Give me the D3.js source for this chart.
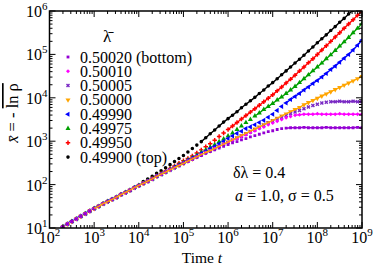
<!DOCTYPE html>
<html>
<head>
<meta charset="utf-8">
<script src="https://cdn.jsdelivr.net/npm/d3@7"></script>
<style>
  body { margin: 0; background: #fff; }
  text { font-family: "Liberation Serif", "Times New Roman", serif; fill: #000; }
</style>
</head>
<body>
<svg></svg>
<script>
const width = 374;
const height = 267;
const margin = { left: 49.5, right: 12, top: 11, bottom: 39 };

// log10 of the time t
const logTime = [2.3, 2.4, 2.5, 2.6, 2.7, 2.8, 2.9, 3.0, 3.1, 3.2, 3.3, 3.4, 3.5, 3.6, 3.7, 3.8, 3.9, 4.0,
  4.1, 4.2, 4.3, 4.4, 4.5, 4.6, 4.7, 4.8, 4.9, 5.0, 5.1, 5.2, 5.3, 5.4, 5.5, 5.6, 5.7, 5.8, 5.9, 6.0,
  6.1, 6.2, 6.3, 6.4, 6.5, 6.6, 6.7, 6.8, 6.9, 7.0, 7.1, 7.2, 7.3, 7.4, 7.5, 7.6, 7.7, 7.8, 7.9, 8.0,
  8.1, 8.2, 8.3, 8.4, 8.5, 8.6, 8.7, 8.8, 8.9, 9.0];

// log10 of x̄, all runs coincide up to t = 10^4
const early = [1.03, 1.09, 1.15, 1.21, 1.27, 1.33, 1.39, 1.45, 1.50, 1.56, 1.61, 1.66, 1.71, 1.77, 1.82, 1.87, 1.93, 1.98];

// values from t = 10^4.1 on
const x50020 = early.concat([2.03, 2.08, 2.13, 2.19, 2.24, 2.29, 2.34, 2.39, 2.44, 2.49, 2.54, 2.59,
  2.63, 2.67, 2.72, 2.76, 2.80, 2.84, 2.88, 2.92, 2.96, 2.99, 3.03, 3.06, 3.10, 3.13, 3.16, 3.19, 3.22,
  3.24, 3.27, 3.29, 3.30, 3.31, 3.31, 3.31, 3.32, 3.31, 3.31, 3.31, 3.31, 3.32, 3.31, 3.31, 3.31, 3.31,
  3.31, 3.31, 3.32, 3.31]);
const x50010 = early.concat([2.03, 2.08, 2.13, 2.19, 2.24, 2.29, 2.34, 2.39, 2.44, 2.49, 2.54, 2.59,
  2.64, 2.69, 2.74, 2.78, 2.83, 2.88, 2.93, 2.97, 3.02, 3.06, 3.11, 3.15, 3.20, 3.24, 3.29, 3.33, 3.38,
  3.42, 3.46, 3.50, 3.54, 3.57, 3.60, 3.61, 3.62, 3.62, 3.62, 3.63, 3.62, 3.62, 3.62, 3.62, 3.63, 3.62,
  3.62, 3.62, 3.62, 3.62]);
const x50005 = early.concat([2.03, 2.08, 2.13, 2.19, 2.24, 2.29, 2.34, 2.39, 2.44, 2.49, 2.54, 2.59,
  2.64, 2.69, 2.74, 2.78, 2.83, 2.88, 2.93, 2.97, 3.02, 3.07, 3.11, 3.16, 3.21, 3.26, 3.31, 3.37, 3.42,
  3.46, 3.51, 3.55, 3.59, 3.63, 3.67, 3.71, 3.75, 3.79, 3.82, 3.85, 3.88, 3.90, 3.91, 3.91, 3.92, 3.91,
  3.91, 3.92, 3.91, 3.91]);
const x50000 = early.concat([2.03, 2.08, 2.13, 2.19, 2.24, 2.29, 2.34, 2.39, 2.44, 2.49, 2.54, 2.59,
  2.64, 2.69, 2.74, 2.78, 2.83, 2.88, 2.93, 2.98, 3.03, 3.08, 3.13, 3.18, 3.23, 3.28, 3.33, 3.38, 3.43,
  3.48, 3.53, 3.58, 3.63, 3.68, 3.73, 3.78, 3.84, 3.89, 3.94, 3.99, 4.04, 4.09, 4.14, 4.19, 4.24, 4.29,
  4.34, 4.39, 4.44, 4.49]);
const x49990 = early.concat([2.03, 2.08, 2.13, 2.19, 2.24, 2.29, 2.34, 2.40, 2.45, 2.50, 2.56, 2.61,
  2.66, 2.72, 2.77, 2.83, 2.88, 2.94, 3.00, 3.06, 3.12, 3.18, 3.23, 3.29, 3.33, 3.38, 3.43, 3.48, 3.55,
  3.62, 3.71, 3.80, 3.88, 3.96, 4.03, 4.10, 4.18, 4.25, 4.33, 4.40, 4.48, 4.56, 4.65, 4.73, 4.82, 4.91,
  5.00, 5.10, 5.21, 5.33]);
const x49975 = early.concat([2.03, 2.08, 2.13, 2.19, 2.24, 2.29, 2.35, 2.40, 2.46, 2.51, 2.57, 2.62,
  2.68, 2.74, 2.80, 2.86, 2.92, 2.99, 3.05, 3.12, 3.19, 3.27, 3.35, 3.43, 3.50, 3.58, 3.65, 3.73, 3.80,
  3.87, 3.95, 4.02, 4.10, 4.18, 4.26, 4.35, 4.44, 4.53, 4.62, 4.71, 4.80, 4.90, 4.99, 5.09, 5.19, 5.29,
  5.39, 5.50, 5.60, 5.71]);
const x49950 = early.concat([2.03, 2.08, 2.14, 2.20, 2.25, 2.31, 2.37, 2.43, 2.49, 2.55, 2.60, 2.66,
  2.73, 2.80, 2.87, 2.94, 3.02, 3.11, 3.19, 3.27, 3.35, 3.43, 3.51, 3.59, 3.67, 3.75, 3.83, 3.91, 3.99,
  4.07, 4.16, 4.25, 4.34, 4.43, 4.52, 4.62, 4.71, 4.81, 4.90, 5.00, 5.10, 5.20, 5.30, 5.40, 5.50, 5.60,
  5.70, 5.80, 5.90, 6.00]);
const x49900 = early.concat([2.07, 2.13, 2.19, 2.26, 2.32, 2.39, 2.46, 2.53, 2.60, 2.67, 2.75, 2.83,
  2.91, 2.99, 3.08, 3.17, 3.26, 3.35, 3.44, 3.52, 3.60, 3.68, 3.77, 3.85, 3.93, 4.01, 4.10, 4.18, 4.27,
  4.35, 4.44, 4.53, 4.62, 4.71, 4.80, 4.89, 4.98, 5.08, 5.17, 5.27, 5.36, 5.45, 5.55, 5.64, 5.74, 5.83,
  5.93, 6.02]);

const labels = ["0.50020 (bottom)", "0.50010", "0.50005", "0.50000", "0.49990", "0.49975", "0.49950", "0.49900 (top)"];
const runs = [x50020, x50010, x50005, x50000, x49990, x49975, x49950, x49900];
// log10 t where the solid curve starts
const lineFrom = [7.3, 7.5, 8.3, 3.0, 7.3, 6.6, 6.0, 5.4];

const xTicks = [2, 3, 4, 5, 6, 7, 8, 9];
const yTicks = [1, 2, 3, 4, 5, 6];

// styles
const colors = ["#9400d3", "#ff00ff", "#7a2ac4", "#ffa500", "#0000ff", "#00a000", "#ff0000", "#000000"];
const shapes = [
  { type: d3.symbolSquare, size: 8, rot: 0 },
  { type: d3.symbolSquare, size: 8, rot: 45 },
  { type: d3.symbolCross, size: 10, rot: 45 },
  { type: d3.symbolTriangle, size: 11, rot: 180 },
  { type: d3.symbolTriangle, size: 11, rot: -90 },
  { type: d3.symbolTriangle, size: 11, rot: 0 },
  { type: d3.symbolCross, size: 11, rot: 0 },
  { type: d3.symbolCircle, size: 10, rot: 0 }
];

const svg = d3.select("svg")
  .attr("width", width)
  .attr("height", height);

const x = d3.scaleLog().domain([1e2, 1e9]).range([margin.left, width - margin.right]);
const y = d3.scaleLog().domain([1e1, 1e6]).range([height - margin.bottom, margin.top]);

svg.append("clipPath").attr("id", "plot")
  .append("rect")
  .attr("x", x.range()[0]).attr("y", y.range()[1])
  .attr("width", x.range()[1] - x.range()[0])
  .attr("height", y.range()[0] - y.range()[1]);

const pts = v => logTime.map((lt, i) => [lt, v[i]]).filter(d => d[1] !== undefined);

const plot = svg.append("g").attr("clip-path", "url(#plot)");

// markers, top curve first so the lowest run sits on top
d3.range(runs.length).reverse().forEach(k => {
  const sym = d3.symbol().type(shapes[k].type).size(shapes[k].size);
  plot.append("g").selectAll("path")
    .data(pts(runs[k]))
    .join("path")
    .attr("d", sym)
    .attr("fill", colors[k])
    .attr("transform", d => `translate(${x(10 ** d[0])},${y(10 ** d[1])}) rotate(${shapes[k].rot})`);
});

// solid curves
const line = d3.line().x(d => x(10 ** d[0])).y(d => y(10 ** d[1]));
d3.range(runs.length).reverse().forEach(k => {
  plot.append("path")
    .datum(pts(runs[k]).filter(d => d[0] >= lineFrom[k] - 1e-9))
    .attr("d", line)
    .attr("fill", "none")
    .attr("stroke", colors[k])
    .attr("stroke-width", 1.4);
});

// ticks on all four sides, pointing inward
const ticks = svg.append("g").attr("stroke", "#000").attr("stroke-width", 1);
const x0 = x.range()[0], x1 = x.range()[1], yb = y.range()[0], yt = y.range()[1];
xTicks.forEach((k, i) => {
  const p = x(10 ** k);
  ticks.append("line").attr("x1", p).attr("x2", p).attr("y1", yb).attr("y2", yb - 6);
  ticks.append("line").attr("x1", p).attr("x2", p).attr("y1", yt).attr("y2", yt + 6);
  if (i < xTicks.length - 1) {
    for (let m = 2; m <= 9; m++) {
      const q = x(m * 10 ** k);
      ticks.append("line").attr("x1", q).attr("x2", q).attr("y1", yb).attr("y2", yb - 3);
      ticks.append("line").attr("x1", q).attr("x2", q).attr("y1", yt).attr("y2", yt + 3);
    }
  }
});
yTicks.forEach((k, i) => {
  const p = y(10 ** k);
  ticks.append("line").attr("y1", p).attr("y2", p).attr("x1", x0).attr("x2", x0 + 6);
  ticks.append("line").attr("y1", p).attr("y2", p).attr("x1", x1).attr("x2", x1 - 6);
  if (i < yTicks.length - 1) {
    for (let m = 2; m <= 9; m++) {
      const q = y(m * 10 ** k);
      ticks.append("line").attr("y1", q).attr("y2", q).attr("x1", x0).attr("x2", x0 + 3);
      ticks.append("line").attr("y1", q).attr("y2", q).attr("x1", x1).attr("x2", x1 - 3);
    }
  }
});

// frame
svg.append("rect")
  .attr("x", x0).attr("y", yt)
  .attr("width", x1 - x0).attr("height", yb - yt)
  .attr("fill", "none").attr("stroke", "#000").attr("stroke-width", 1.5);

// tick labels
function power(sel, k) {
  sel.append("tspan").text("10");
  sel.append("tspan").attr("font-size", 11).attr("dy", -7).text(k);
}
xTicks.forEach(k => {
  svg.append("text")
    .attr("x", x(10 ** k)).attr("y", yb + 15)
    .attr("text-anchor", "middle").attr("font-size", 16)
    .call(power, k);
});
yTicks.forEach(k => {
  svg.append("text")
    .attr("x", x0 - 2).attr("y", y(10 ** k) + 6)
    .attr("text-anchor", "end").attr("font-size", 16)
    .call(power, k);
});

// axis titles
const xt = svg.append("text")
  .attr("x", 202).attr("y", 263)
  .attr("text-anchor", "middle").attr("font-size", 15.5);
xt.append("tspan").text("Time ");
xt.append("tspan").attr("font-style", "italic").text("t");

const yl = svg.append("text")
  .attr("transform", "translate(18,113) rotate(-90)")
  .attr("text-anchor", "middle").attr("font-size", 16.5);
yl.append("tspan").attr("font-style", "italic").text("x\u0304");
yl.append("tspan").text(" =  - ");
yl.append("tspan").attr("text-decoration", "overline").text("ln \u03c1");

// legend
svg.append("text")
  .attr("x", 107).attr("y", 42)
  .attr("text-anchor", "middle").attr("font-size", 17)
  .text("\u03bb\u0304");

const legend = svg.append("g");
labels.forEach((lab, k) => {
  const cy = 57 + k * 14.3;
  legend.append("path")
    .attr("d", d3.symbol().type(shapes[k].type).size(shapes[k].size))
    .attr("fill", colors[k])
    .attr("transform", `translate(68,${cy}) rotate(${shapes[k].rot})`);
  legend.append("text")
    .attr("x", 80).attr("y", cy + 5.5)
    .attr("font-size", 16)
    .text(lab);
});

// parameters
svg.append("text")
  .attr("x", 233).attr("y", 178).attr("font-size", 16)
  .text("\u03b4\u03bb = 0.4");
const par = svg.append("text").attr("x", 235).attr("y", 201).attr("font-size", 16);
par.append("tspan").attr("font-style", "italic").text("a");
par.append("tspan").text(" = 1.0, \u03c3 = 0.5");
</script>
</body>
</html>
